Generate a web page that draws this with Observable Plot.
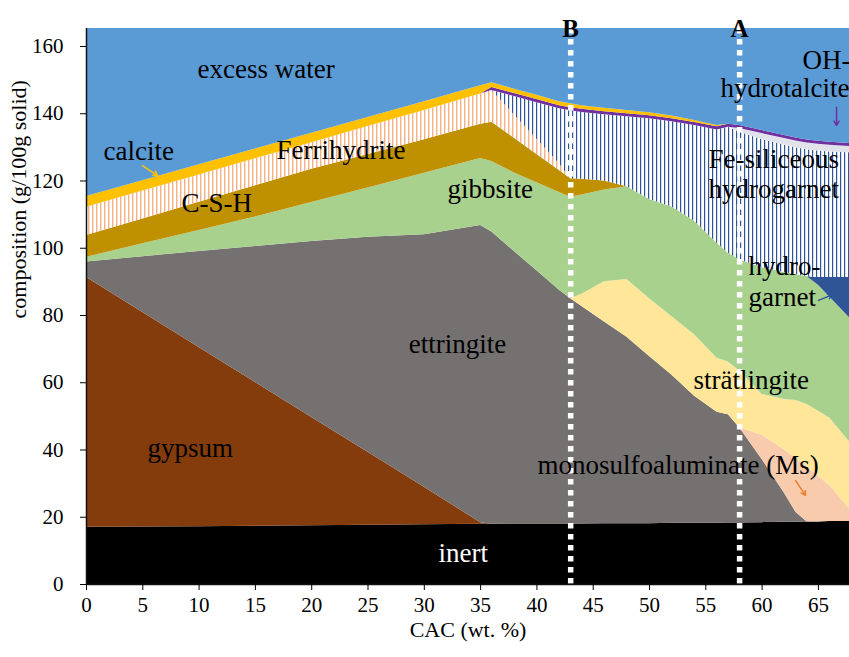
<!DOCTYPE html>
<html><head><meta charset="utf-8">
<script src="https://cdn.jsdelivr.net/npm/d3@7"></script>
<script src="https://cdn.jsdelivr.net/npm/@observablehq/plot@0.6"></script>
<style>body{margin:0;background:#fff;} svg{display:block}</style>
</head><body><div id="chart"></div>
<script>
// CAC content (wt. %)
const cac = [0,5,10,15,20,25,30,35,36,38,40,42,43,44,46,48,50,52,54,56,57,58,60,62,63,64,65,66,68];
// phase amounts (g/100g solid), bottom to top
const inert = [17.0,17.1,17.2,17.3,17.5,17.6,17.8,17.9,17.9,18.0,18.0,18.0,18.0,18.0,18.1,18.1,18.1,18.2,18.2,18.2,18.3,18.3,18.4,18.5,18.5,18.6,18.6,18.7,18.7];
const gypsum = [74.3,63.8,53.3,42.8,32.2,21.7,11.1,0.5,0,0,0,0,0,0,0,0,0,0,0,0,0,0,0,0,0,0,0,0,0];
const ettringite = [4.6,16.6,28.5,40.4,52.3,64.0,75.1,88.4,86.9,81.0,75.3,69.5,67.0,64.7,60.0,55.4,49.7,44.0,37.8,33.0,32.2,28.3,18.8,8.6,3.0,0,0,0,0];
const monosulfo = [0,0,0,0,0,0,0,0,0,0,0,0,0,0,0,0,0,0,0,0,0,0,7.2,12.9,16.0,16.4,13.6,10.8,2.8];
const stratlingite = [0,0,0,0,0,0,0,0,0,0,0,0,0,3.6,11.9,17.2,17.2,17.4,18.3,16.1,15.7,16.9,12.1,15.0,17.2,18.5,19.3,20.0,20.0];
const gibbsite = [1.4,3.8,6.3,8.8,11.6,14.6,18.3,19.9,21.0,23.4,26.2,29.1,30.2,29.5,27.3,27.6,29.5,32.7,33.7,34.2,32.3,33.1,37.7,37.8,37.5,38.0,37.5,36.0,37.0];
const hydrogarnet = [0,0,0,0,0,0,0,0,0,0,0,0,0,0,0,0,0,0,0,0,0,0,0,0,0,0,2.3,5.8,12.8];
const ferrihydrite = [6.5,7.4,8.4,9.3,9.9,10.0,10.0,10.2,11.7,10.3,8.4,6.5,5.5,4.7,2.7,0,0,0,0,0,0,0,0,0,0,0,0,0,0];
const csh = [8.4,8.3,8.1,8.0,7.9,8.3,8.7,9.0,9.4,6.9,4.5,2.0,0,0,0,0,0,0,0,0,0,0,0,0,0,0,0,0,0];
const feSiHydrogarnet = [0,0,0,0,0,0,0,0,0,5.5,10.9,16.4,20.2,19.9,19.7,20.8,24.0,25.3,28.5,33.7,37.5,38.0,38.1,37.8,37.7,37.8,37.6,37.3,37.1];
const minorPhase = [0,0,0,0,0,0,0,0,0,0,0,0,0,0,0,0,0,0,0,0,0,1.0,1.8,2.0,2.0,2.0,2.0,2.0,1.8];
const hydrotalcite = [0,0,0,0,0,0,0,0,0.9,0.9,0.9,0.9,0.9,0.9,0.9,0.9,0.9,0.9,0.9,0.9,0.9,0.9,0.9,0.9,0.9,0.9,0.9,0.9,0.9];
const calcite = [3.2,3.1,3.0,2.9,2.8,2.7,2.6,2.4,1.4,1.3,1.3,1.2,1.2,1.1,1.0,1.0,0.9,0.8,0.6,0.4,0,0,0,0,0,0,0,0,0];
const excessWater = [60,60,60,60,60,60,60,60,60,60,60,60,60,60,60,60,60,60,60,60,60,60,60,60,60,60,60,60,60];

const phases = ["inert","gypsum","ettringite","monosulfoaluminate (Ms)","strätlingite","gibbsite","hydrogarnet","Ferrihydrite","C-S-H","Fe-siliceous hydrogarnet","minor phase","OH-hydrotalcite","calcite","excess water"];
const phaseSeries = [inert,gypsum,ettringite,monosulfo,stratlingite,gibbsite,hydrogarnet,ferrihydrite,csh,feSiHydrogarnet,minorPhase,hydrotalcite,calcite,excessWater];
const phaseFills = ["#000000","#843C0C","#767171","#F8CBAD","#FFE699","#A9D18E","#2F5597","#BF9000","url(#hatch-csh)","url(#hatch-fesi)","#E2E2EA","#7030A0","#FFC000","#5B9BD5"];

const xTicks = [0,5,10,15,20,25,30,35,40,45,50,55,60,65];
const yTicks = [0,20,40,60,80,100,120,140,160];
const markerCac = [43, 58];
const markerNames = ["B", "A"];

// in-chart labels (annotation positions in data units)
const labelText = ["excess water","calcite","C-S-H","Ferrihydrite","gibbsite","gypsum","monosulfoaluminate (Ms)","strätlingite","hydro-","garnet","Fe-siliceous","hydrogarnet","OH-","hydrotalcite"];
const labelX = [9.86,1.51,8.44,16.87,32.06,5.42,40.05,53.91,58.79,58.79,55.24,55.24,63.59,56.31];
const labelY = [153.3,128.7,113.2,129.1,117.6,40.6,35.3,60.6,94.5,85.5,126.3,117.6,156.0,147.4];

const arrowFrom = [[4.97,124.6],[62.97,30.9],[65.01,84.5],[66.61,141.9]];
const arrowTo = [[6.31,121.6],[63.85,26.5],[66.25,86.2],[66.61,136.5]];
const arrowColors = ["#FFC000","#ED7D31","#2F5597","#7030A0"];

const rows = [];
phases.forEach((p, i) => cac.forEach((x, j) => rows.push({phase: p, cac: x, value: phaseSeries[i][j]})));
const labels = labelText.map((t, i) => ({t, x: labelX[i], y: labelY[i]}));
const arrows = arrowFrom.map((a, i) => ({x1: a[0], y1: a[1], x2: arrowTo[i][0], y2: arrowTo[i][1], c: arrowColors[i]}));
const markers = markerCac.map((x, i) => ({x, name: markerNames[i]}));

const serif = "'Liberation Serif', 'Times New Roman', serif";

const svg = Plot.plot({
  width: 849, height: 657,
  marginLeft: 86, marginRight: 0, marginTop: 28, marginBottom: 73,
  style: {fontFamily: serif, fontSize: "21px", color: "black", background: "white", overflow: "visible"},
  x: {domain: [0, 67.76]},
  y: {domain: [0, 165.35]},
  color: {type: "ordinal", domain: phases, range: phaseFills},
  marks: [
    Plot.areaY(rows, {x: "cac", y: "value", z: "phase", fill: "phase", order: null, clip: "frame", curve: "linear"}),
    Plot.ruleX(markers, {x: "x", stroke: "white", strokeWidth: 5.5, strokeDasharray: "5.5,5.5"}),
    Plot.text(markers, {x: "x", text: "name", frameAnchor: "top", dy: -9, fontSize: 25, fontWeight: "bold", fill: "black"}),
    Plot.text(labels, {x: "x", y: "y", text: "t", textAnchor: "start", fontSize: 27, fill: "black"}),
    Plot.text(["ettringite"], {x: 32.95, y: 71.3, text: d => d, textAnchor: "middle", fontSize: 27, fill: "black"}),
    Plot.text(["inert"], {x: 31.26, y: 9.4, text: d => d, textAnchor: "start", fontSize: 27, fill: "white"}),
    Plot.arrow(arrows, {x1: "x1", y1: "y1", x2: "x2", y2: "y2", stroke: "c", strokeWidth: 1.5, headLength: 5}),
    Plot.ruleX([0], {stroke: "#111", strokeWidth: 1.5}),
    Plot.ruleY([0], {stroke: "#111", strokeWidth: 1.5}),
    Plot.axisX({ticks: xTicks, tickSize: 6, tickPadding: 7, tickFormat: d => String(d), label: null, fontSize: 21}),
    Plot.axisY({ticks: yTicks, tickSize: 6, tickPadding: 17, tickFormat: d => String(d), label: null, fontSize: 21}),
    Plot.text(["CAC (wt. %)"], {text: d => d, frameAnchor: "bottom", dy: 52, fontSize: 22, fill: "black"}),
    Plot.text(["composition (g/100g solid)"], {text: d => d, frameAnchor: "left", dx: -68, dy: 12, rotate: -90, fontSize: 22, fill: "black"})
  ]
});

const defs = document.createElementNS("http://www.w3.org/2000/svg", "defs");
defs.innerHTML = `
<pattern id="hatch-csh" patternUnits="userSpaceOnUse" width="4" height="4">
  <rect width="4" height="4" fill="#ffffff"/><rect x="0" y="0" width="1.4" height="4" fill="#F4B183"/>
</pattern>
<pattern id="hatch-fesi" patternUnits="userSpaceOnUse" width="4" height="4">
  <rect width="4" height="4" fill="#ffffff"/><rect x="0" y="0" width="1.2" height="4" fill="#2F5597"/>
</pattern>`;
svg.insertBefore(defs, svg.firstChild);
document.getElementById("chart").appendChild(svg);
</script>
</body></html>
